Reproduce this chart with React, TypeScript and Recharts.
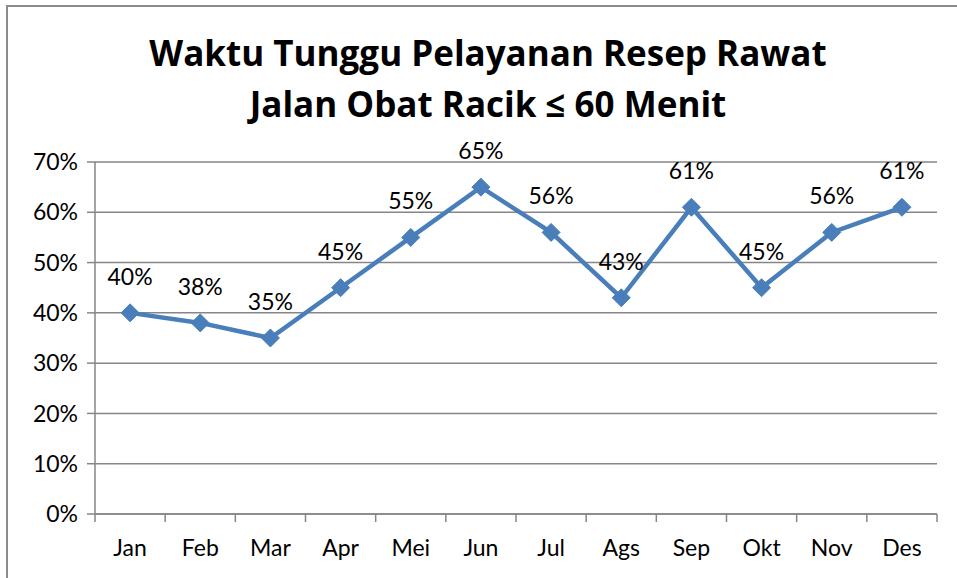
import React from 'react'
import {
  CartesianGrid,
  LabelList,
  Line,
  LineChart,
  XAxis,
  YAxis,
} from 'recharts'

const months = ['Jan', 'Feb', 'Mar', 'Apr', 'Mei', 'Jun', 'Jul', 'Ags', 'Sep', 'Okt', 'Nov', 'Des']
const percentages = [40, 38, 35, 45, 55, 65, 56, 43, 61, 45, 56, 61]
const yTicks = [0, 10, 20, 30, 40, 50, 60, 70]
const titleLines = ['Waktu Tunggu Pelayanan Resep Rawat', 'Jalan Obat Racik ≤ 60 Menit']

const data = months.map((month, i) => ({ month, value: percentages[i] }))

const WIDTH = 957
const HEIGHT = 578
const LEFT = 95
const RIGHT = 20
const TOP = 162
const X_AXIS_H = 64
const FONT = 'Lato, "Noto Sans", sans-serif'
const TITLE_FONT = '"Open Sans", Lato, sans-serif'
const BLUE = '#4A7EBB'
const GRID = '#868686'

const band = (WIDTH - LEFT - RIGHT) / months.length

function Diamond(props: any) {
  const { cx, cy } = props
  if (cx == null || cy == null) return null
  const r = 9
  return (
    <polygon
      points={`${cx},${cy - r} ${cx + r},${cy} ${cx},${cy + r} ${cx - r},${cy}`}
      fill={BLUE}
      stroke={BLUE}
    />
  )
}

function MonthTick(props: any) {
  const { x, y, payload, index } = props
  const left = x - band / 2
  return (
    <g>
      <line x1={left} y1={y - 8} x2={left} y2={y} stroke={GRID} strokeWidth={1.5} />
      {index === months.length - 1 && (
        <line x1={x + band / 2} y1={y - 8} x2={x + band / 2} y2={y} stroke={GRID} strokeWidth={1.5} />
      )}
      <text x={x} y={y + 34} textAnchor="middle" fontSize={23} fontFamily={FONT} fill="#000">
        {payload.value}
      </text>
    </g>
  )
}

export default function App() {
  return (
    <div style={{ position: 'absolute', left: 0, top: 0, width: WIDTH, height: HEIGHT, background: '#fff', overflow: 'hidden' }}>
      <div
        style={{
          position: 'absolute',
          left: 6,
          top: 5,
          width: WIDTH,
          height: HEIGHT,
          borderTop: '2px solid #8c8c8c',
          borderLeft: '2px solid #8c8c8c',
        }}
      />
      <svg width={WIDTH} height={140} style={{ position: 'absolute', left: 0, top: 0 }}>
        {titleLines.map((line, i) => (
          <text
            key={line}
            x={488}
            y={66 + i * 51}
            textAnchor="middle"
            fontSize={35}
            fontWeight="bold"
            fontFamily={TITLE_FONT}
            fill="#000"
          >
            {line}
          </text>
        ))}
      </svg>
      <div style={{ position: 'absolute', left: 0, top: 0 }}>
        <LineChart
          width={WIDTH}
          height={HEIGHT}
          data={data}
          margin={{ top: TOP, right: RIGHT, bottom: 0, left: 0 }}
        >
          <CartesianGrid vertical={false} stroke={GRID} strokeWidth={1.5} />
          <XAxis
            dataKey="month"
            height={X_AXIS_H}
            stroke={GRID}
            strokeWidth={1.5}
            tickLine={false}
            tick={<MonthTick />}
            interval={0}
            padding={{ left: band / 2, right: band / 2 }}
          />
          <YAxis
            width={LEFT}
            domain={[0, 70]}
            ticks={yTicks}
            tickFormatter={(v: number) => `${v}%`}
            stroke={GRID}
            strokeWidth={1.5}
            tickSize={8}
            tickMargin={9}
            tick={{ fontSize: 23, fontFamily: FONT, fill: '#000' }}
          />
          <Line
            type="linear"
            dataKey="value"
            stroke={BLUE}
            strokeWidth={4.5}
            dot={<Diamond />}
            activeDot={false}
            isAnimationActive={false}
          >
            <LabelList
              dataKey="value"
              position="top"
              offset={28}
              formatter={(v: any) => `${v}%`}
              style={{ fontSize: 23, fontFamily: FONT, fill: '#000' }}
            />
          </Line>
        </LineChart>
      </div>
    </div>
  )
}
